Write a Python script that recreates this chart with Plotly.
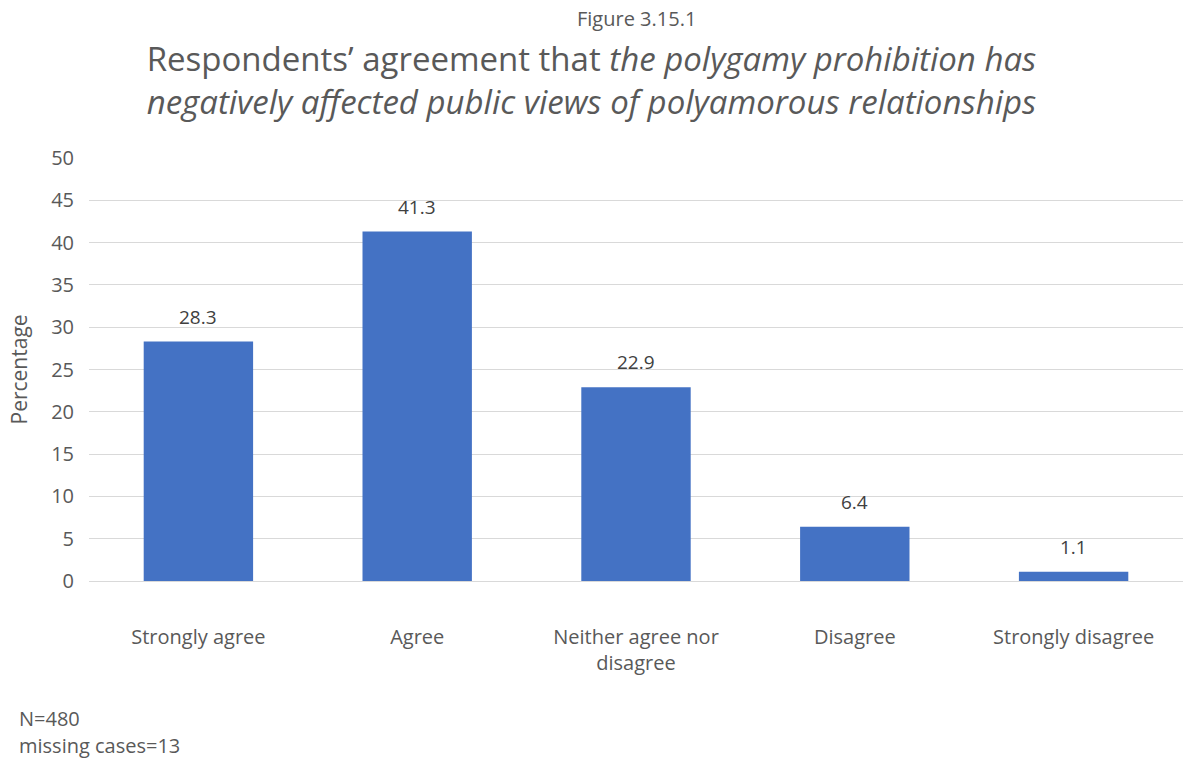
import plotly.graph_objects as go

categories = ["Strongly agree", "Agree", "Neither agree nor<br>disagree", "Disagree", "Strongly disagree"]
values = [28.3, 41.3, 22.9, 6.4, 1.1]
y_ticks = [0, 5, 10, 15, 20, 25, 30, 35, 40, 45, 50]

FONT = "Open Sans"
GREY = "#595959"

W, H = 1183, 760
L, T, B = 89, 158, 179

fig = go.Figure()
fig.add_trace(go.Bar(
    x=categories, y=values,
    marker=dict(color="#4472C4", line=dict(width=0)),
    width=0.5,
    hoverinfo="skip",
))

annotations = []
for c, v in zip(categories, values):
    annotations.append(dict(x=c, y=v, xref="x", yref="y", text=f"{v:.1f}",
                            showarrow=False, yshift=25,
                            font=dict(family=FONT, size=19, color="#404040")))

annotations += [
    dict(x=0.5, y=1, xref="paper", yref="paper", text="Figure 3.15.1", showarrow=False,
         yanchor="middle", yshift=140, borderpad=0, font=dict(family=FONT, size=20, color=GREY)),
    dict(x=0, xref="paper", y=0.5, yref="paper", text="Percentage", showarrow=False,
         xanchor="center", xshift=-71, textangle=-90, borderpad=0,
         font=dict(family=FONT, size=21, color=GREY)),
    dict(x=0, y=0, xref="paper", yref="paper", text="N=480", showarrow=False,
         xanchor="left", yanchor="middle", xshift=-71, yshift=-137, borderpad=0,
         font=dict(family=FONT, size=20, color=GREY)),
    dict(x=0, y=0, xref="paper", yref="paper", text="missing cases=13", showarrow=False,
         xanchor="left", yanchor="middle", xshift=-71, yshift=-164, borderpad=0,
         font=dict(family=FONT, size=20, color=GREY)),
]

fig.update_layout(
    width=W, height=H,
    margin=dict(l=L, r=0, t=T, b=B, pad=0),
    paper_bgcolor="white", plot_bgcolor="white",
    showlegend=False,
    bargap=0.5,
    title=dict(
        text="Respondents’ agreement that <i>the polygamy prohibition has</i><br><i>negatively affected public views of polyamorous relationships</i>",
        x=0.5, xanchor="center", y=1 - 71 / H, yanchor="middle",
        font=dict(family=FONT, size=33, color=GREY),
    ),
    xaxis=dict(showgrid=False, showline=False, ticks="", ticklabelstandoff=42,
               tickfont=dict(family=FONT, size=20, color=GREY)),
    yaxis=dict(range=[0, 50], tickvals=y_ticks, showgrid=True, gridcolor="#D9D9D9", gridwidth=1,
               zeroline=True, zerolinecolor="#D9D9D9", zerolinewidth=1,
               showline=False, ticks="", ticklabelstandoff=14,
               tickfont=dict(family=FONT, size=20, color=GREY)),
    annotations=annotations,
)

# remove the page's default body margin so the figure fills the window exactly
fig.write_html("out.html", config={"displayModeBar": False},
               post_script="document.body.style.margin='0';")
